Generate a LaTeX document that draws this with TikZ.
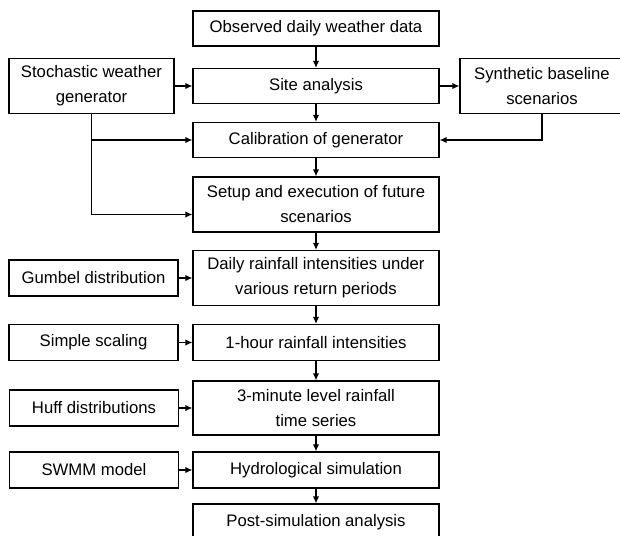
\documentclass[tikz,border=0pt]{standalone}
\usepackage{fontspec}
\setmainfont{Liberation Sans}
\usetikzlibrary{arrows.meta}
\begin{document}
\begin{tikzpicture}[x=1pt,y=-1pt,
  box/.style={draw, line width=1.3pt, inner sep=0pt, align=center,
    font=\fontsize{16.7}{25}\selectfont, text=black},
  mainbox/.style={box, minimum width=246pt},
  sidebox/.style={box, minimum width=169pt, minimum height=36pt},
  one/.style={minimum height=35pt},
  two/.style={minimum height=55pt},
  arr/.style={line width=1.3pt, -{Latex[length=7pt,width=6.5pt]}}
]
\useasboundingbox (0,0) rectangle (620,535);

% main column
\node[mainbox, one] (obs)    at (316,28.5)  {Observed daily weather data};
\node[mainbox, one] (site)   at (316,86)    {Site analysis};
\node[mainbox, one] (calib)  at (316,140)   {Calibration of generator};
\node[mainbox, two] (setup)  at (316,204.5) {Setup and execution of future\\scenarios};
\node[mainbox, two] (daily)  at (316,278)   {Daily rainfall intensities under\\various return periods};
\node[mainbox, minimum height=36pt] (hour) at (316,342.5) {1-hour rainfall intensities};
\node[mainbox, minimum height=54pt] (minute) at (316,408) {3-minute level rainfall\\time series};
\node[mainbox, minimum height=36pt] (hydro) at (316,470) {Hydrological simulation};
\node[mainbox, minimum height=36pt] (post)  at (316,522) {Post-simulation analysis};

% side boxes
\node[box, minimum width=165pt, two] (stoch) at (91.5,86) {Stochastic weather\\generator};
\node[box, minimum width=164pt, two] (synth) at (542,86) {Synthetic baseline\\scenarios};
\node[sidebox] (gumbel)  at (93.5,278) {Gumbel distribution};
\node[sidebox] (scaling) at (93.5,342.5) {Simple scaling};
\node[sidebox] (huff)    at (94,408) {Huff distributions};
\node[sidebox] (swmm)    at (94,470) {SWMM model};

% vertical flow
\draw[arr] (obs) -- (site);
\draw[arr] (site) -- (calib);
\draw[arr] (calib) -- (setup);
\draw[arr] (setup) -- (daily);
\draw[arr] (daily) -- (hour);
\draw[arr] (hour) -- (minute);
\draw[arr] (minute) -- (hydro);
\draw[arr] (hydro) -- (post);

% horizontal links
\draw[arr] (stoch) -- (site);
\draw[arr] (site) -- (synth);
\draw[arr] (stoch.south) |- ([yshift=-10pt]setup.west);
\draw[arr] (stoch.south |- calib.west) -- (calib.west);
\draw[arr] (synth.south) |- (calib.east);
\draw[arr] (gumbel) -- (daily);
\draw[arr] (scaling) -- (hour);
\draw[arr] (huff) -- (minute);
\draw[arr] (swmm) -- (hydro);
\end{tikzpicture}
\end{document}
